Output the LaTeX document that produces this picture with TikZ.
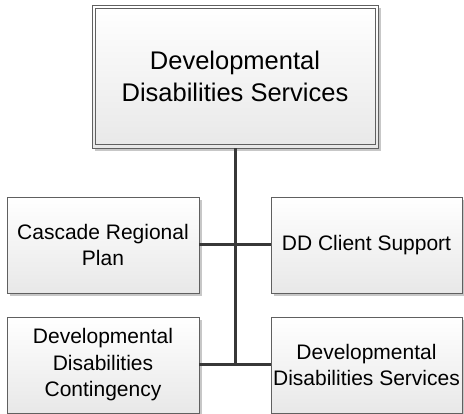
\documentclass[tikz,border=0pt]{standalone}
\usepackage{fontspec}
\setmainfont{Liberation Sans}
\usetikzlibrary{shadows}
\begin{document}
\begin{tikzpicture}[x=1pt,y=-1pt,
  box/.style={draw=gray!75!black, line width=0.8pt, top color=white, bottom color=black!9,
    drop shadow={shadow xshift=3pt, shadow yshift=-3pt, fill=black!22, opacity=1},
    align=center, inner sep=0pt, font=\fontsize{21}{26.5}\selectfont},
  headbox/.style={box, font=\fontsize{25.5}{32}\selectfont},
  conn/.style={draw=black!78, line width=3pt}]
\useasboundingbox (0,0) rectangle (464,414);
\node[headbox, minimum width=286pt, minimum height=143pt] (top) at (235,76.5)
  {Developmental\\Disabilities Services};
\draw[draw=gray!75!black, line width=0.8pt]
  ([xshift=3.5pt,yshift=-3.5pt]top.north west) rectangle ([xshift=-3.5pt,yshift=3.5pt]top.south east);
\node[box, minimum width=192pt, minimum height=96pt] (l1) at (103,245) {Cascade Regional\\Plan};
\node[box, minimum width=191pt, minimum height=96pt] (r1) at (366.5,245) {DD Client Support};
\node[box, minimum width=192pt, minimum height=96pt] (l2) at (103,365) {Developmental\\Disabilities\\Contingency};
\node[box, minimum width=191pt, minimum height=96pt] (r2) at (366.5,365) {Developmental\\Disabilities Services};
\coordinate (jb) at (top.south |- l2.east);
\draw[conn] (top.south) -- (jb);
\draw[conn] (l1.east) -- (r1.west);
\draw[conn] (l2.east) -- (r2.west);
\end{tikzpicture}
\end{document}
